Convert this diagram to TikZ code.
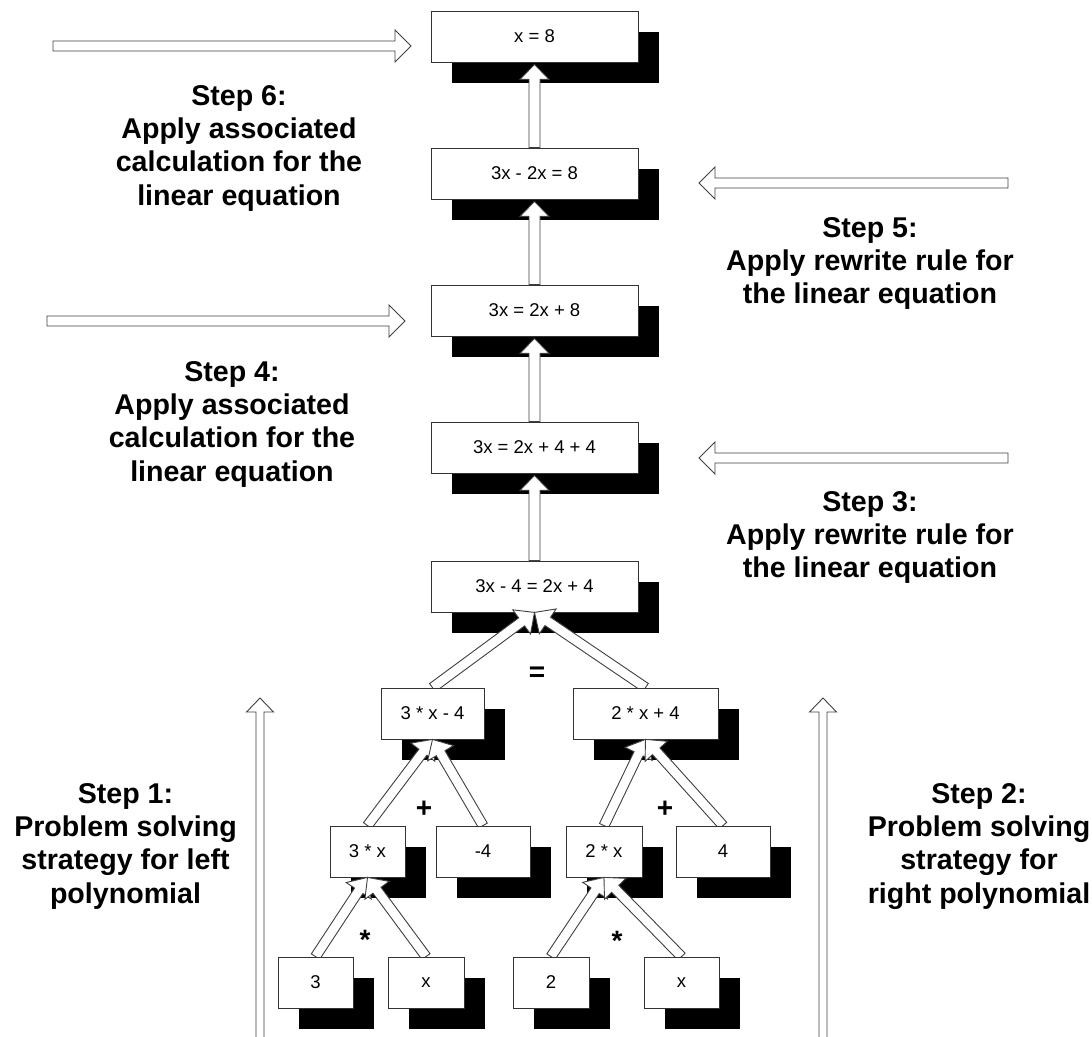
\documentclass[tikz,border=0pt]{standalone}
\usepackage{fontspec}
\setmainfont{Liberation Sans}
\usetikzlibrary{calc,shadows}

% drawing order: each tree level sits above the arrows that point into it
\pgfdeclarelayer{boxA}
\pgfdeclarelayer{arrA}
\pgfdeclarelayer{boxB}
\pgfdeclarelayer{arrB}
\pgfdeclarelayer{boxC}
\pgfdeclarelayer{arrC}
\pgfsetlayers{boxA,arrA,boxB,arrB,boxC,arrC,main}

% hollow block arrow: tail, tip, shaft half width, head half width, head length
\newcommand\hollowarrow[5]{%
  \coordinate (ha-n) at ($(#2)!#5!(#1)$);
  \draw[arrowline]
    ($(#1)!#3!-90:(#2)$) -- ($(ha-n)!#3!-90:(#2)$) -- ($(ha-n)!#4!-90:(#2)$)
    -- (#2) -- ($(ha-n)!#4!90:(#2)$) -- ($(ha-n)!#3!90:(#2)$)
    -- ($(#1)!#3!90:(#2)$) -- cycle;}

\tikzset{
  box/.style={draw=black!80, line width=0.8pt, fill=white, inner sep=0pt,
    minimum height=51pt, font=\fontsize{18.5}{22}\selectfont,
    drop shadow={shadow xshift=21pt, shadow yshift=-21pt, fill=black, opacity=1}},
  arrowline/.style={draw=black!75, line width=0.9pt, fill=white, line join=miter},
  steplabel/.style={align=center, inner sep=0pt, anchor=north,
    font=\fontsize{28.6}{33.3}\selectfont\bfseries},
  oplabel/.style={inner sep=0pt, anchor=base, font=\fontsize{28}{33}\selectfont\bfseries},
}

\begin{document}
\begin{tikzpicture}[x=1pt, y=-1pt]
\clip (0,0) rectangle (1092,1036);

% equation chain
\begin{pgfonlayer}{boxA}
\node[box, minimum width=207pt] (e6) at (534.5,36.5)  {x = 8};
\node[box, minimum width=207pt] (e5) at (534.5,173.5) {3x - 2x = 8};
\node[box, minimum width=207pt] (e4) at (534.5,310.5) {3x = 2x + 8};
\node[box, minimum width=207pt] (e3) at (534.5,447.5) {3x = 2x + 4 + 4};
\node[box, minimum width=207pt] (e0) at (534.5,586.5) {3x - 4 = 2x + 4};
\end{pgfonlayer}

% polynomials
\begin{pgfonlayer}{boxB}
\node[box, minimum width=103pt] (lp) at (432.5,713.5) {3 * x - 4};
\node[box, minimum width=145pt] (rp) at (645.5,713.5) {2 * x + 4};
\end{pgfonlayer}

% terms
\begin{pgfonlayer}{boxC}
\node[box, minimum width=75pt] (lm) at (367.5,851.5) {3 * x};
\node[box, minimum width=94pt] (lc) at (483,851.5)   {-4};
\node[box, minimum width=76pt] (rm) at (604,851.5)   {2 * x};
\node[box, minimum width=94pt] (rc) at (723,851.5)   {4};
\end{pgfonlayer}

% factors
\node[box, minimum width=75pt] (l3) at (315.5,982.5) {3};
\node[box, minimum width=76pt] (lx) at (426,982.5)   {x};
\node[box, minimum width=76pt] (r2) at (551,982.5)   {2};
\node[box, minimum width=75pt] (rx) at (681.5,982.5) {x};

% operators
\node[oplabel] (opeq) at (537,681) {=};
\node[oplabel] (opl)  at (424,817) {+};
\node[oplabel] (opr)  at (665,817) {+};
\node[oplabel] (oml)  at (365,949) {*};
\node[oplabel] (omr)  at (617,950) {*};

% arrows into the equation chain
\begin{pgfonlayer}{arrA}
\coordinate (e6in) at ($(e6.south)+(0,2)$);
\coordinate (e5in) at ($(e5.south)+(0,2)$);
\coordinate (e4in) at ($(e4.south)+(0,2)$);
\coordinate (e3in) at ($(e3.south)+(0,2)$);
\hollowarrow{e5.north}{e6in}{5.5pt}{14.5pt}{15pt}
\hollowarrow{e4.north}{e5in}{5.5pt}{14.5pt}{15pt}
\hollowarrow{e3.north}{e4in}{5.5pt}{14.5pt}{15pt}
\hollowarrow{e0.north}{e3in}{5.5pt}{14.5pt}{15pt}
\hollowarrow{lp.north}{e0.south}{5pt}{15pt}{16pt}
\hollowarrow{rp.north}{e0.south}{5pt}{15pt}{16pt}
\end{pgfonlayer}

\begin{pgfonlayer}{arrB}
\hollowarrow{lm.north}{lp.south}{5pt}{15pt}{16pt}
\hollowarrow{lc.north}{lp.south}{5pt}{15pt}{16pt}
\hollowarrow{rm.north}{rp.south}{5pt}{15pt}{16pt}
\hollowarrow{rc.north}{rp.south}{5pt}{15pt}{16pt}
\end{pgfonlayer}

\begin{pgfonlayer}{arrC}
\hollowarrow{l3.north}{lm.south}{5pt}{15pt}{16pt}
\hollowarrow{lx.north}{lm.south}{5pt}{15pt}{16pt}
\hollowarrow{r2.north}{rm.south}{5pt}{15pt}{16pt}
\hollowarrow{rx.north}{rm.south}{5pt}{15pt}{16pt}
\end{pgfonlayer}

% step arrows
\coordinate (s6a) at (53,46);    \coordinate (s6b) at (411,46);
\coordinate (s5a) at (1008,183); \coordinate (s5b) at (699,183);
\coordinate (s4a) at (47,321);   \coordinate (s4b) at (405,321);
\coordinate (s3a) at (1008,458); \coordinate (s3b) at (699,458);
\coordinate (s1a) at (260,1050); \coordinate (s1b) at (260,698);
\coordinate (s2a) at (823,1050); \coordinate (s2b) at (823,698);
\hollowarrow{s6a}{s6b}{5pt}{16pt}{16pt}
\hollowarrow{s5a}{s5b}{5pt}{16pt}{16pt}
\hollowarrow{s4a}{s4b}{5pt}{16pt}{16pt}
\hollowarrow{s3a}{s3b}{5pt}{16pt}{16pt}
\hollowarrow{s1a}{s1b}{4pt}{13.5pt}{14pt}
\hollowarrow{s2a}{s2b}{4pt}{13.5pt}{14pt}

% step descriptions
\node[steplabel] (t6) at (239,85)  {Step 6:\\Apply associated\\calculation for the\\linear equation};
\node[steplabel] (t5) at (870,217) {Step 5:\\Apply rewrite rule for\\the linear equation};
\node[steplabel] (t4) at (232,361) {Step 4:\\Apply associated\\calculation for the\\linear equation};
\node[steplabel] (t3) at (870,491) {Step 3:\\Apply rewrite rule for\\the linear equation};
\node[steplabel] (t1) at (125.5,783) {Step 1:\\Problem solving\\strategy for left\\polynomial};
\node[steplabel] (t2) at (979,783) {Step 2:\\Problem solving\\strategy for\\right polynomial};
\end{tikzpicture}
\end{document}
